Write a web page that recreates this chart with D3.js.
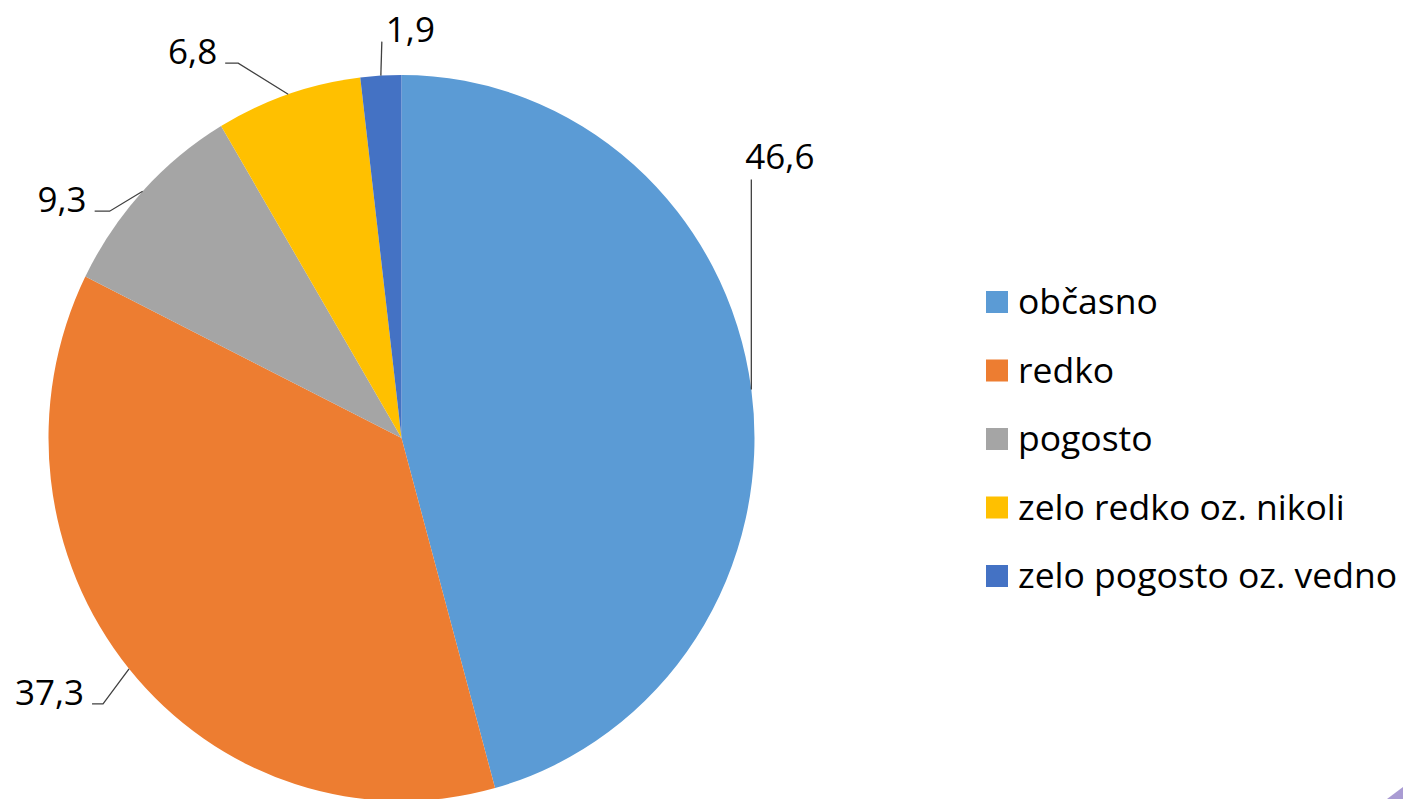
<!DOCTYPE html>
<html>
<head>
<meta charset="utf-8">
<script src="https://cdn.jsdelivr.net/npm/d3@7"></script>
<style>
    html, body { margin: 0; padding: 0; background: #fff; }
    svg { display: block; font-family: "Open Sans", sans-serif; }
</style>
</head>
<body>
<div id="chart"></div>
<script>
// Podatki iz grafa (odstotki)
const categories = ['občasno', 'redko', 'pogosto', 'zelo redko oz. nikoli', 'zelo pogosto oz. vedno'];
const values = [46.6, 37.3, 9.3, 6.8, 1.9];
const valueLabels = ['46,6', '37,3', '9,3', '6,8', '1,9'];
const colors = ['#5b9bd5', '#ed7d31', '#a5a5a5', '#ffc000', '#4472c4'];

// Postavitev oznak: [kolen dx, dy], [konec dx, dy], stran besedila
const labelElbow = [[0, -210], [-26, 35], [-33, 20], [-50, -31], [1, -34]];
const labelEnd = [[0, -210], [-37, 35], [-48, 20], [-63, -31], [1, -34]];
const labelSide = ['above', 'left', 'left', 'left', 'right'];

const width = 1403;
const height = 799;
const cx = 401.5;
const cy = 438;
const rx = 353;
const ry = 363;

const data = categories.map((c, i) => ({ category: c, value: values[i], label: valueLabels[i], color: colors[i] }));

const svg = d3.select('#chart')
    .append('svg')
    .attr('width', width)
    .attr('height', height);

const pie = d3.pie()
    .sort(null)
    .value(d => d.value);

const arc = d3.arc()
    .innerRadius(0)
    .outerRadius(rx);

const arcs = pie(data);

// Krog, rahlo raztegnjen navpično kot v izvirniku
svg.append('g')
    .attr('transform', `translate(${cx},${cy}) scale(1,${ry / rx})`)
    .selectAll('path')
    .data(arcs)
    .enter()
    .append('path')
    .attr('d', arc)
    .attr('fill', d => d.data.color);

// Oznake z vodilnimi črtami
const labels = svg.append('g');
arcs.forEach((d, i) => {
    const mid = (d.startAngle + d.endAngle) / 2;
    const ax = cx + rx * Math.sin(mid);
    const ay = cy - ry * Math.cos(mid);
    const ex = ax + labelElbow[i][0];
    const ey = ay + labelElbow[i][1];
    const tx = ax + labelEnd[i][0];
    const ty = ay + labelEnd[i][1];

    labels.append('polyline')
        .attr('points', [[ax, ay], [ex, ey], [tx, ty]].map(p => p.join(',')).join(' '))
        .attr('fill', 'none')
        .attr('stroke', '#404040')
        .attr('stroke-width', 1.3);

    const t = labels.append('text')
        .attr('font-size', '35px')
        .attr('fill', '#000')
        .text(d.data.label);

    if (labelSide[i] === 'left') {
        t.attr('x', tx - 8).attr('y', ty + 1).attr('text-anchor', 'end');
    } else if (labelSide[i] === 'right') {
        t.attr('x', tx + 4).attr('y', ty).attr('text-anchor', 'start');
    } else {
        t.attr('x', tx - 6).attr('y', ty - 10).attr('text-anchor', 'start');
    }
});

// Legenda
const legendY = d3.scalePoint()
    .domain(categories)
    .range([302, 576]);

const legend = svg.append('g')
    .selectAll('g')
    .data(data)
    .enter()
    .append('g')
    .attr('transform', d => `translate(986,${legendY(d.category)})`);

legend.append('rect')
    .attr('x', 0)
    .attr('y', -11)
    .attr('width', 22)
    .attr('height', 22)
    .attr('fill', d => d.color);

legend.append('text')
    .attr('x', 32)
    .attr('y', 12)
    .attr('font-size', '35.5px')
    .attr('fill', '#000')
    .text(d => d.category);

// Vijoličast kotiček spodaj desno
svg.append('path')
    .attr('d', `M${width - 16},${height} L${width},${height - 12} L${width},${height} Z`)
    .attr('fill', '#a99bd3');
</script>
</body>
</html>
